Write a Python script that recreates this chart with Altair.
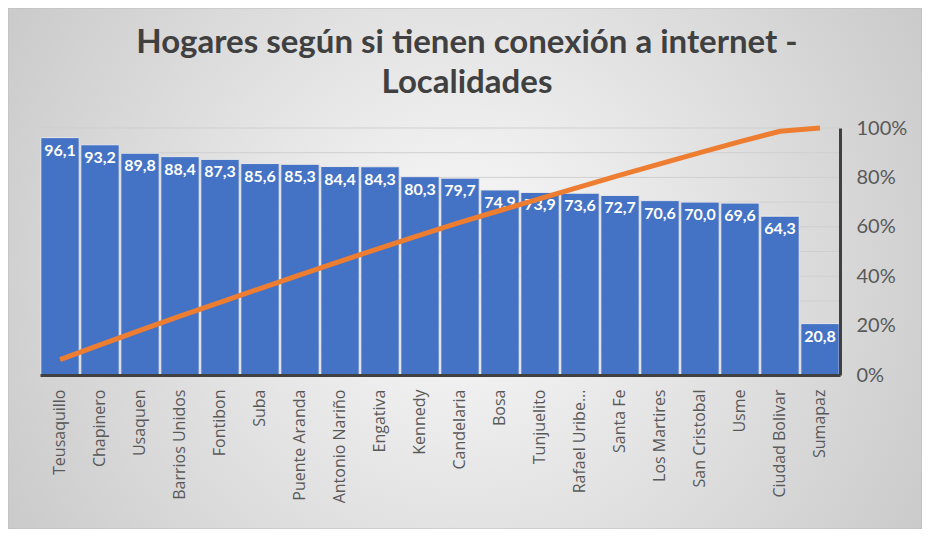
import altair as alt
import pandas as pd

localidades = ["Teusaquillo", "Chapinero", "Usaquen", "Barrios Unidos", "Fontibon", "Suba",
               "Puente Aranda", "Antonio Nariño", "Engativa", "Kennedy", "Candelaria", "Bosa",
               "Tunjuelito", "Rafael Uribe Uribe", "Santa Fe", "Los Martires", "San Cristobal",
               "Usme", "Ciudad Bolivar", "Sumapaz"]
valores = [96.1, 93.2, 89.8, 88.4, 87.3, 85.6, 85.3, 84.4, 84.3, 80.3, 79.7, 74.9,
           73.9, 73.6, 72.7, 70.6, 70.0, 69.6, 64.3, 20.8]
acumulado = [0.062, 0.122, 0.181, 0.238, 0.294, 0.350, 0.405, 0.460, 0.514, 0.566,
             0.618, 0.666, 0.714, 0.762, 0.809, 0.855, 0.900, 0.945, 0.987, 1.000]
grid_values = [10, 20, 30, 40, 50, 60, 70, 80, 90, 100]
right_ticks = [0, 0.2, 0.4, 0.6, 0.8, 1.0]

df = pd.DataFrame({"loc": localidades, "valor": valores, "acum": acumulado})
df["etiqueta"] = [f"{v:.1f}".replace(".", ",") for v in valores]
grid_df = pd.DataFrame({"g": grid_values})

W, H = 800, 247
PL, PT, PR, PB = 32, 120, 82, 154

xenc = alt.X("loc:N", sort=localidades, title=None,
             scale=alt.Scale(paddingInner=0.04, paddingOuter=0.02),
             axis=alt.Axis(labelAngle=-90, labelFont="Open Sans", labelFontSize=16,
                           labelColor="#595959", labelPadding=14, ticks=False,
                           domainColor="#404040", domainWidth=3, labelLimit=200, zindex=1,
                           labelExpr="datum.label == 'Rafael Uribe Uribe' ? 'Rafael Uribe...' : datum.label"))

bg = alt.Chart(pd.DataFrame({"a": [0]})).mark_rect(
    color=alt.Gradient(gradient="radial", x1=0.5, y1=0.5, r1=0, x2=0.5, y2=0.5, r2=0.7,
                       stops=[alt.GradientStop(offset=0, color="#fafafa"),
                              alt.GradientStop(offset=1, color="#c0c0c0")]),
    stroke="#bdbdbd", strokeWidth=1
).encode(x=alt.value(-PL), x2=alt.value(W + PR), y=alt.value(-PT), y2=alt.value(H + PB))

yscale = alt.Scale(domain=[0, 100])
grid = alt.Chart(grid_df).mark_rule(color="#cfcfcf", strokeWidth=1).encode(
    y=alt.Y("g:Q", scale=yscale, axis=None))

bars = alt.Chart(df).mark_bar(color="#4472C4", stroke="#e8e8e8", strokeWidth=1).encode(
    x=xenc, y=alt.Y("valor:Q", scale=yscale, axis=None))

labels = alt.Chart(df).mark_text(color="white", font="Lato", fontWeight="bold",
                                 fontSize=16, baseline="top", dy=5).encode(
    x=alt.X("loc:N", sort=localidades), y=alt.Y("valor:Q", scale=yscale, axis=None),
    text="etiqueta:N")

line = alt.Chart(df).mark_line(color="#ED7D31", strokeWidth=5).encode(
    x=alt.X("loc:N", sort=localidades),
    y=alt.Y("acum:Q", scale=alt.Scale(domain=[0, 1]), title=None,
            axis=alt.Axis(orient="right", values=right_ticks, format=".0%", grid=False,
                          ticks=False, labelFont="Lato", labelFontSize=20, zindex=1,
                          labelColor="#595959", labelPadding=16,
                          domainColor="#404040", domainWidth=3)))

inner = alt.layer(grid, bars, labels)

chart = alt.layer(bg, inner, line).resolve_scale(y="independent").properties(
    width=W, height=H,
    autosize=alt.AutoSizeParams(type="none"),
    padding={"left": PL, "top": PT, "right": PR, "bottom": PB},
    title=alt.TitleParams(
        text=["Hogares según si tienen conexión a internet -", "Localidades"],
        font="Lato", fontSize=33, fontWeight="bold", color="#404040",
        anchor="middle", frame="group", dx=27, offset=-92, lineHeight=40),
).configure_view(stroke=None).configure(background="white")

chart.save("out.html", embed_options={"renderer": "svg", "actions": False})
